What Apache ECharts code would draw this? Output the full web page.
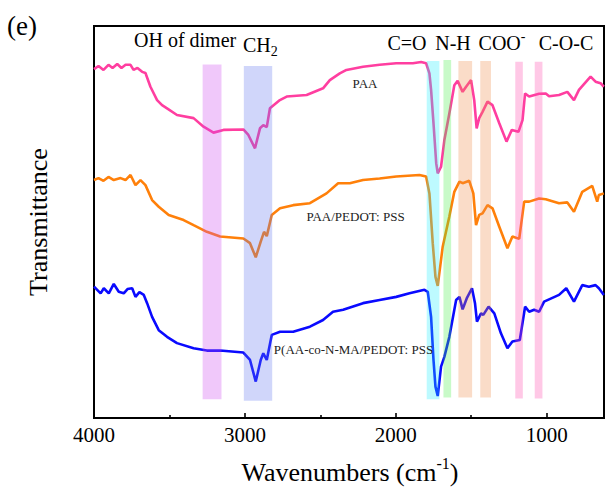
<!DOCTYPE html>
<html><head><meta charset="utf-8">
<script src="https://cdn.jsdelivr.net/npm/echarts@6/dist/echarts.min.js"></script>
<style>html,body{margin:0;padding:0;background:#fff}#c{width:606px;height:489px}</style>
</head><body><div id="c"></div>
<script>
// ---------- DATA ----------
const xMajorTicks = [4000, 3000, 2000, 1000];
const xMinorTicks = [3500, 2500, 1500];

const paaWn = [4000,3970,3937,3904,3877,3846,3818,3791,3758,3738,3712,3681,3659,3626,3582,3549,3516,3450,3340,3274,3208,3142,3010,2977,2933,2900,2878,2855,2834,2768,2723,2591,2482,2437,2371,2327,2217,2107,1997,1887,1832,1799,1777,1766,1750,1732,1722,1700,1678,1645,1612,1590,1557,1534,1501,1480,1464,1447,1425,1392,1359,1314,1266,1231,1187,1160,1143,1116,1050,1006,984,918,863,819,786,709,676,643,621];
const paaT  = [89.0,89.8,88.8,90.1,89.3,90.3,89.3,90.1,90.1,88.8,89.3,88.3,88.0,84.5,81.1,79.8,79.0,77.3,76.5,74.3,72.8,73.5,73.6,72.2,68.8,73.9,74.7,74.2,79.0,81.1,82.0,82.4,84.1,86.2,87.9,88.8,89.6,90.1,90.5,90.5,90.8,90.5,87.9,83.7,75.2,65.0,62.4,64.1,70.9,77.7,84.9,86.0,83.2,84.5,86.2,81.1,73.9,76.5,78.1,80.7,79.8,75.2,70.5,73.5,73.0,76.0,82.8,82.0,82.7,82.8,82.1,82.4,83.2,81.1,83.7,87.1,85.8,85.4,84.5];

const pedotWn = [4000,3970,3937,3904,3869,3824,3791,3758,3725,3692,3659,3615,3571,3505,3406,3340,3252,3164,3010,2966,2928,2895,2873,2855,2822,2767,2680,2569,2459,2382,2305,2217,2107,1997,1843,1799,1777,1755,1737,1722,1689,1645,1612,1578,1557,1513,1486,1468,1447,1425,1392,1359,1314,1260,1227,1182,1149,1116,1050,1006,918,863,819,764,698,665,654,621];
const pedotT  = [60.7,61.2,60.5,61.5,60.7,61.2,60.7,62.0,59.4,60.7,59.4,55.6,53.9,51.8,50.5,49.2,47.5,46.3,45.8,44.6,41.0,45.0,47.5,46.4,51.8,53.5,54.3,54.8,57.3,59.9,59.9,60.7,61.1,61.6,62.0,61.6,57.3,44.6,36.0,33.7,43.7,51.4,57.7,60.3,59.9,60.5,57.3,49.2,51.8,52.2,54.3,53.5,48.8,43.3,46.3,45.7,55.2,55.2,56.0,55.8,54.8,55.0,52.6,57.7,59.2,55.2,56.9,57.3];

const copoWn = [4000,3956,3935,3902,3869,3836,3803,3778,3747,3725,3699,3670,3648,3615,3571,3516,3450,3340,3252,3164,3010,2966,2928,2895,2878,2855,2822,2767,2680,2569,2482,2416,2349,2217,2107,1997,1909,1810,1788,1766,1750,1737,1722,1700,1678,1645,1600,1578,1557,1530,1495,1475,1462,1435,1420,1385,1347,1303,1260,1227,1178,1143,1116,1083,1050,1017,918,870,819,764,720,676,654,621];
const copoT  = [33.5,31.8,33.1,31.8,34.2,32.2,31.8,32.9,33.1,30.9,32.1,31.4,29.3,25.8,22.4,20.7,19.1,17.8,17.2,17.2,16.7,14.8,9.3,14.8,16.5,14.8,21.2,22.0,22.0,23.3,25.0,27.1,27.6,29.3,30.1,30.9,31.8,32.7,32.2,25.8,14.8,8.0,5.6,13.1,15.6,20.7,30.1,30.9,27.7,30.5,33.1,29.3,24.6,26.7,26.3,28.4,26.7,21.6,17.8,19.5,19.9,28.4,27.1,27.6,27.1,29.7,31.4,33.1,29.7,33.9,33.5,33.9,33.1,31.4];

// highlighted bands (wavenumber from/to, transmittance low/high)
const bandFrom = [3280, 3007, 1795, 1684, 1585, 1440, 1208, 1079];
const bandTo   = [3155, 2819, 1711, 1633, 1494, 1369, 1158, 1028];
const bandLow  = [4.8, 4.4, 4.8, 5.2, 5.2, 5.2, 5.0, 5.0];
const bandHigh = [90.2, 89.8, 91.1, 91.3, 91.1, 91.1, 90.9, 90.9];

// ---------- STYLE ----------
const FONT = "Liberation Serif";
const bandColors = ['rgba(205,72,238,0.3)','rgba(98,118,238,0.3)','rgba(38,238,255,0.3)','rgba(72,238,72,0.3)',
                    'rgba(238,138,72,0.3)','rgba(238,138,72,0.3)','rgba(255,72,172,0.3)','rgba(255,72,172,0.3)'];
const lineColors = ['#ff3ea0', '#ff800a', '#0a0aff'];

const mctx = document.createElement('canvas').getContext('2d');
function tw(t, s){ mctx.font = s + 'px "' + FONT + '"'; return mctx.measureText(t).width; }
function textRun(pieces, x, anchor, y, fill){
  const total = pieces.reduce((a,p)=>a+tw(p.t,p.s),0);
  let cx = anchor === 'center' ? x - total/2 : x;
  return pieces.map(p=>{
    const el = {type:'text', x: cx, y: y + (p.dy||0), z: 100, silent: true,
      style:{text:p.t, fontSize:p.s, fontFamily:FONT, fill: fill||'#000',
             align:'left', verticalAlign:'middle', textAlign:'left', textVerticalAlign:'middle'}};
    cx += tw(p.t,p.s);
    return el;
  });
}
const annotations = [
  [[{t:'(e)', s:27}], 22, 'center', 26],
  [[{t:'OH of dimer', s:20}], 134, 'left', 40],
  [[{t:'CH', s:20},{t:'2', s:14, dy:6}], 243, 'left', 45],
  [[{t:'C=O', s:20}], 407, 'center', 42.8],
  [[{t:'N-H', s:20}], 453, 'center', 42.8],
  [[{t:'COO', s:20},{t:'-', s:14, dy:-6}], 502, 'center', 42.8],
  [[{t:'C-O-C', s:20}], 566, 'center', 42.8],
  [[{t:'PAA', s:13}], 365, 'center', 83.3, '#222'],
  [[{t:'PAA/PEDOT: PSS', s:13}], 355.5, 'center', 216, '#222'],
  [[{t:'P(AA-co-N-MA/PEDOT: PSS', s:13}], 353.5, 'center', 349.3, '#222'],
  [[{t:'Wavenumbers (cm', s:26},{t:'-1', s:16, dy:-9},{t:')', s:26}], 350, 'center', 472]
];
let graphics = [];
annotations.forEach(a=>{ graphics = graphics.concat(textRun(a[0], a[1], a[2], a[3], a[4])); });

const zip = (xs, ys) => xs.map((x,i)=>[x, ys[i]]);
function lineSeries(name, xs, ys, color){
  return {name, type:'line', data: zip(xs, ys), showSymbol:false, symbol:'none', z:2,
    lineStyle:{color, width:2.6}, itemStyle:{color}, animation:false};
}

const chart = echarts.init(document.getElementById('c'), null, {renderer:'svg'});
chart.setOption({
  backgroundColor:'#fff',
  animation:false,
  textStyle:{fontFamily:FONT},
  grid:{left:94, right:2, top:26, bottom:71, show:true, borderColor:'#000', borderWidth:2, backgroundColor:'transparent'},
  xAxis:[{
    type:'value', inverse:true, min:620, max:4000,
    axisLine:{show:true, lineStyle:{color:'#000', width:2}},
    axisTick:{show:true, inside:true, length:5, customValues:xMajorTicks, lineStyle:{color:'#000', width:1.6}},
    axisLabel:{show:true, customValues:xMajorTicks, margin:6, fontSize:21, fontFamily:FONT, color:'#000',
               formatter:function(v){ return String(v); }},
    splitLine:{show:false}
  },{
    type:'value', inverse:true, min:620, max:4000, position:'bottom',
    axisLine:{show:false},
    axisTick:{show:true, inside:true, length:3, customValues:xMinorTicks, lineStyle:{color:'#000', width:1.6}},
    axisLabel:{show:false}, splitLine:{show:false}
  }],
  yAxis:{
    type:'value', min:0, max:100,
    name:'Transmittance', nameLocation:'middle', nameGap:43, nameRotate:90,
    nameTextStyle:{fontSize:26, fontFamily:FONT, color:'#000'},
    axisLine:{show:true, lineStyle:{color:'#000', width:2}},
    axisTick:{show:false}, axisLabel:{show:false}, splitLine:{show:false}
  },
  series:[
    lineSeries('PAA', paaWn, paaT, lineColors[0]),
    lineSeries('PAA/PEDOT: PSS', pedotWn, pedotT, lineColors[1]),
    lineSeries('P(AA-co-N-MA/PEDOT: PSS', copoWn, copoT, lineColors[2]),
    {type:'custom', name:'bands', z:5, silent:true, animation:false,
     data: bandFrom.map((f,i)=>[f, bandTo[i], bandLow[i], bandHigh[i]]),
     encode:{x:[0,1], y:[2,3]},
     renderItem:function(params, api){
       const p1 = api.coord([api.value(0), api.value(3)]);
       const p2 = api.coord([api.value(1), api.value(2)]);
       return {type:'rect', shape:{x:Math.min(p1[0],p2[0]), y:Math.min(p1[1],p2[1]),
               width:Math.abs(p2[0]-p1[0]), height:Math.abs(p2[1]-p1[1])},
               style:{fill:bandColors[params.dataIndex]}};
     }}
  ],
  graphic: graphics
});
</script></body></html>
